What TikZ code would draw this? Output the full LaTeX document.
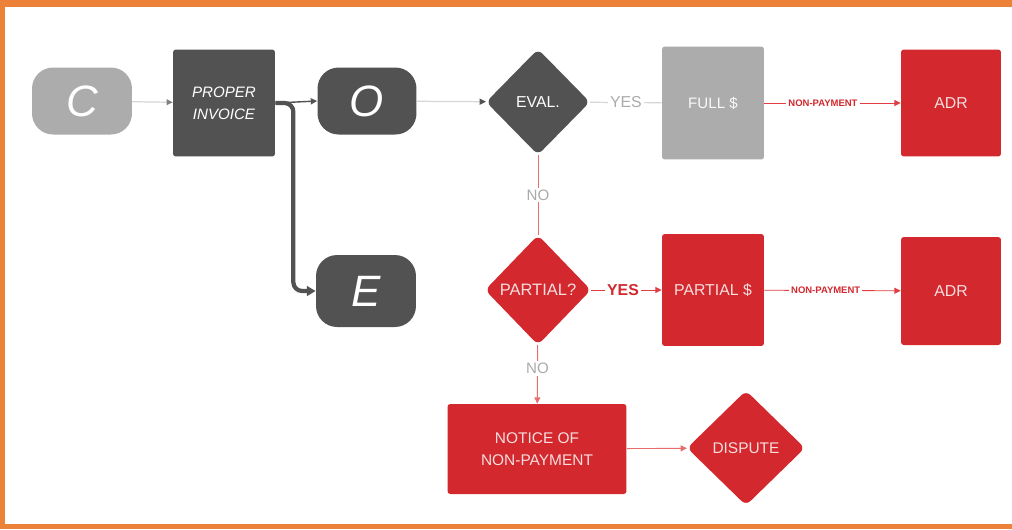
\documentclass[tikz,border=0pt]{standalone}
\usepackage{fontspec}
\setmainfont{Liberation Sans}
\usetikzlibrary{shapes.geometric,arrows.meta}

\definecolor{brandred}{RGB}{210,40,46}
\definecolor{linkred}{RGB}{224,62,66}
\definecolor{darkbox}{RGB}{82,82,82}
\definecolor{lightbox}{RGB}{172,172,172}
\definecolor{frame}{RGB}{236,130,55}
\definecolor{redtext}{RGB}{247,222,222}
\definecolor{faint}{RGB}{215,215,215}
\definecolor{softred}{RGB}{232,110,110}
\definecolor{labelgray}{RGB}{170,170,170}

\tikzset{
  box/.style={rectangle, rounded corners=1.6pt, inner sep=2pt, align=center},
  pill/.style={rectangle, rounded corners=12pt, fill=darkbox, text=white,
    font=\itshape\fontsize{25}{25}\selectfont},
  decision/.style={diamond, aspect=1, inner sep=0pt, rounded corners=3.5pt, align=center},
  redbox/.style={box, fill=brandred, text=redtext, font=\fontsize{9}{11}\selectfont},
  darkbx/.style={box, fill=darkbox, text=white, font=\itshape\fontsize{8.6}{12.5}\selectfont},
  tip/.style={-{Triangle[length=3.6pt,width=3.4pt]}},
  redline/.style={draw=softred, line width=0.55pt},
  redlink/.style={draw=linkred, line width=0.5pt, tip},
  graylink/.style={draw=faint, line width=0.7pt},
  edgelabel/.style={fill=white, inner sep=1.2pt},
}

\begin{document}
\begin{tikzpicture}[x=0.02cm,y=-0.02cm]
  % canvas and orange frame (top, left, bottom)
  \fill[white] (0,0) rectangle (1012,529);
  \useasboundingbox (0,0) rectangle (1012,529);
  \fill[frame] (0,0) rectangle (1012,7);
  \fill[frame] (0,0) rectangle (5,529);
  \fill[frame] (0,524) rectangle (1012,529);

  % first row
  \node[pill, fill=lightbox, minimum width=2.0cm, minimum height=1.34cm] (c) at (82,101) {C};
  \node[darkbx, minimum width=2.04cm, minimum height=2.14cm] (inv) at (224,103) {PROPER\\INVOICE};
  \node[pill, minimum width=1.98cm, minimum height=1.34cm] (o) at (367,101) {O};
  \node[pill, minimum width=2.0cm, minimum height=1.44cm] (e) at (366,291) {E};
  \node[decision, fill=darkbox, text=white, font=\fontsize{9}{11}\selectfont,
        minimum width=2.08cm, minimum height=2.12cm] (eval) at (538,102) {EVAL.};
  \node[box, fill=lightbox, text=white!93!lightbox, font=\fontsize{8.6}{11}\selectfont,
        minimum width=2.04cm, minimum height=2.26cm] (full) at (713,103) {FULL \$};
  \node[redbox, minimum width=2.0cm, minimum height=2.14cm] (adra) at (951,103) {ADR};

  % second row
  \node[decision, fill=brandred, text=redtext, font=\fontsize{9.4}{11}\selectfont,
        minimum width=2.12cm, minimum height=2.2cm] (part) at (538,290) {PARTIAL?};
  \node[redbox, minimum width=2.04cm, minimum height=2.24cm] (parts) at (713,290) {PARTIAL \$};
  \node[redbox, minimum width=2.0cm, minimum height=2.16cm] (adrb) at (951,291) {ADR};

  % third row
  \node[redbox, font=\fontsize{8.8}{12.5}\selectfont, minimum width=3.58cm, minimum height=1.8cm]
        (notice) at (537,449) {NOTICE OF\\NON-PAYMENT};
  \node[decision, fill=brandred, text=redtext, font=\fontsize{8.8}{11}\selectfont,
        minimum width=2.36cm, minimum height=2.3cm] (disp) at (746,448) {DISPUTE};

  % connectors
  \draw[graylink, -{Triangle[length=3.4pt,width=3.2pt,color=gray]}] (c) -- (inv);
  \draw[line width=0.8pt, draw=darkbox, tip] (inv.east) -- (o.west);
  \draw[line width=2.4pt, draw=darkbox, rounded corners=5pt,
        -{Triangle[length=5pt,width=5.5pt]}]
        (inv.east) -- ++(18,0) |- (e.west);
  \draw[graylink, -{Triangle[length=3.6pt,width=3.4pt,color=darkbox]}] (o) -- (eval);
  \draw[graylink] (eval) -- node[edgelabel, text=labelgray, font=\fontsize{9}{11}\selectfont]{YES} (full);
  \draw[redlink] (full) -- node[edgelabel, pos=0.43, text=brandred, font=\bfseries\fontsize{5.4}{7}\selectfont]{NON-PAYMENT} (adra);
  \draw[redline] (eval) -- node[edgelabel, text=labelgray, font=\fontsize{8.6}{11}\selectfont]{NO} (part);
  \draw[redlink] (part) -- node[edgelabel, pos=0.45, text=brandred, font=\bfseries\fontsize{9}{11}\selectfont]{YES} (parts);
  \draw[redlink] (parts) -- node[edgelabel, pos=0.45, text=brandred, font=\bfseries\fontsize{5.4}{7}\selectfont]{NON-PAYMENT} (adrb);
  \draw[redline, tip] (part) -- node[edgelabel, pos=0.4, text=labelgray, font=\fontsize{8.6}{11}\selectfont]{NO} (notice);
  \draw[redlink, draw=softred] (notice) -- (disp);
\end{tikzpicture}
\end{document}
